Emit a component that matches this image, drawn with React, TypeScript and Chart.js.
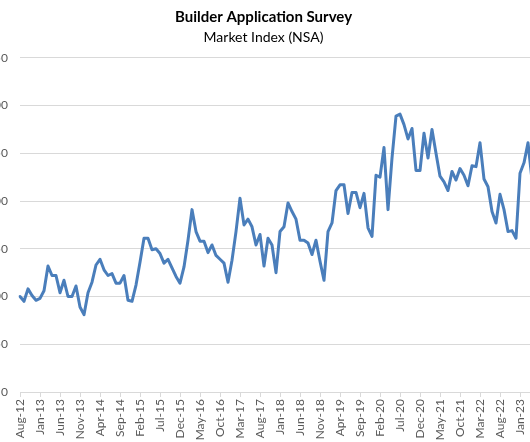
import React, { useEffect, useRef } from "react";
import { Chart, registerables } from "chart.js";

Chart.register(...registerables);

const TITLE = "Builder Application Survey";
const SUBTITLE = "Market Index (NSA)";

const MONTH_NAMES = ["Jan", "Feb", "Mar", "Apr", "May", "Jun", "Jul", "Aug", "Sep", "Oct", "Nov", "Dec"];
const START_YEAR = 2012;
const START_MONTH = 7; // Aug
const LABEL_EVERY = 5;

const values2012 = [100, 95, 108, 101, 96];
const values2013 = [98, 106, 132, 122, 122, 104, 117, 100, 100, 111, 89, 81];
const values2014 = [104, 115, 133, 139, 128, 122, 124, 114, 114, 122, 96, 95];
const values2015 = [112, 136, 161, 161, 149, 150, 145, 135, 139, 130, 121, 114];
const values2016 = [131, 159, 191, 168, 158, 158, 146, 154, 143, 139, 135, 115];
const values2017 = [138, 168, 203, 175, 181, 173, 154, 165, 132, 161, 154, 125];
const values2018 = [168, 173, 198, 189, 181, 159, 159, 156, 144, 159, 137, 117];
const values2019 = [168, 177, 211, 217, 217, 187, 209, 209, 193, 208, 172, 163];
const values2020 = [227, 225, 256, 191, 245, 289, 291, 280, 265, 276, 232, 232];
const values2021 = [271, 245, 275, 250, 226, 220, 211, 231, 222, 234, 227, 216];
const values2022 = [237, 236, 261, 223, 215, 189, 177, 207, 191, 168, 169, 161];
const values2023 = [229, 240, 261, 222];

const indexValues = [
  ...values2012, ...values2013, ...values2014, ...values2015, ...values2016, ...values2017,
  ...values2018, ...values2019, ...values2020, ...values2021, ...values2022, ...values2023,
];

const categories = indexValues.map((_, i) => {
  const m = START_MONTH + i;
  const y = START_YEAR + Math.floor(m / 12);
  return `${MONTH_NAMES[m % 12]}-${String(y % 100).padStart(2, "0")}`;
});

const Y_MIN = 0;
const Y_MAX = 350;
const Y_STEP = 50;

const FONT = "Lato, 'Open Sans', sans-serif";

export default function App() {
  const ref = useRef<HTMLCanvasElement | null>(null);

  useEffect(() => {
    if (!ref.current) return;
    const chart = new Chart(ref.current, {
      type: "line",
      data: {
        labels: categories,
        datasets: [
          {
            data: indexValues,
            borderColor: "#4a7ebb",
            backgroundColor: "#4a7ebb",
            borderWidth: 3,
            pointRadius: 0,
            tension: 0,
            borderJoinStyle: "round",
            borderCapStyle: "round",
          },
        ],
      },
      options: {
        responsive: false,
        animation: false,
        devicePixelRatio: 1,
        layout: { padding: { left: 0, right: 20, top: 0, bottom: 0 } },
        plugins: {
          legend: { display: false },
          tooltip: { enabled: false },
          title: {
            display: true,
            text: TITLE,
            color: "#000000",
            font: { family: FONT, size: 15, weight: "bold" },
            padding: { top: 8, bottom: 3 },
          },
          subtitle: {
            display: true,
            text: SUBTITLE,
            color: "#000000",
            font: { family: FONT, size: 14 },
            padding: { top: 0, bottom: 12 },
          },
        },
        scales: {
          x: {
            type: "category",
            offset: false,
            afterBuildTicks: (scale: any) => {
              scale.ticks = scale.ticks.filter((t: any) => t.value % LABEL_EVERY === 0);
            },
            afterFit: (scale: any) => {
              scale.height = 50;
            },
            grid: {
              display: true,
              drawOnChartArea: false,
              drawTicks: true,
              tickLength: 5,
              color: "#d9d9d9",
            },
            border: { display: true, color: "#d9d9d9" },
            ticks: {
              autoSkip: false,
              maxRotation: 90,
              minRotation: 90,
              padding: 2,
              color: "#595959",
              font: { family: FONT, size: 12 },
            },
          },
          y: {
            min: Y_MIN,
            max: Y_MAX,
            afterFit: (scale: any) => {
              scale.width = 25;
            },
            grid: { color: "#d9d9d9", drawTicks: false },
            border: { display: false },
            ticks: {
              stepSize: Y_STEP,
              padding: 12,
              color: "#595959",
              font: { family: FONT, size: 12 },
            },
          },
        },
      },
    });
    return () => chart.destroy();
  }, []);

  return (
    <div
      style={{
        position: "fixed",
        left: 0,
        top: 0,
        width: 530,
        height: 442,
        overflow: "hidden",
        background: "#ffffff",
      }}
    >
      <canvas
        ref={ref}
        width={557}
        height={442}
        style={{ position: "absolute", left: -5, top: 0, width: 557, height: 442 }}
      />
    </div>
  );
}
